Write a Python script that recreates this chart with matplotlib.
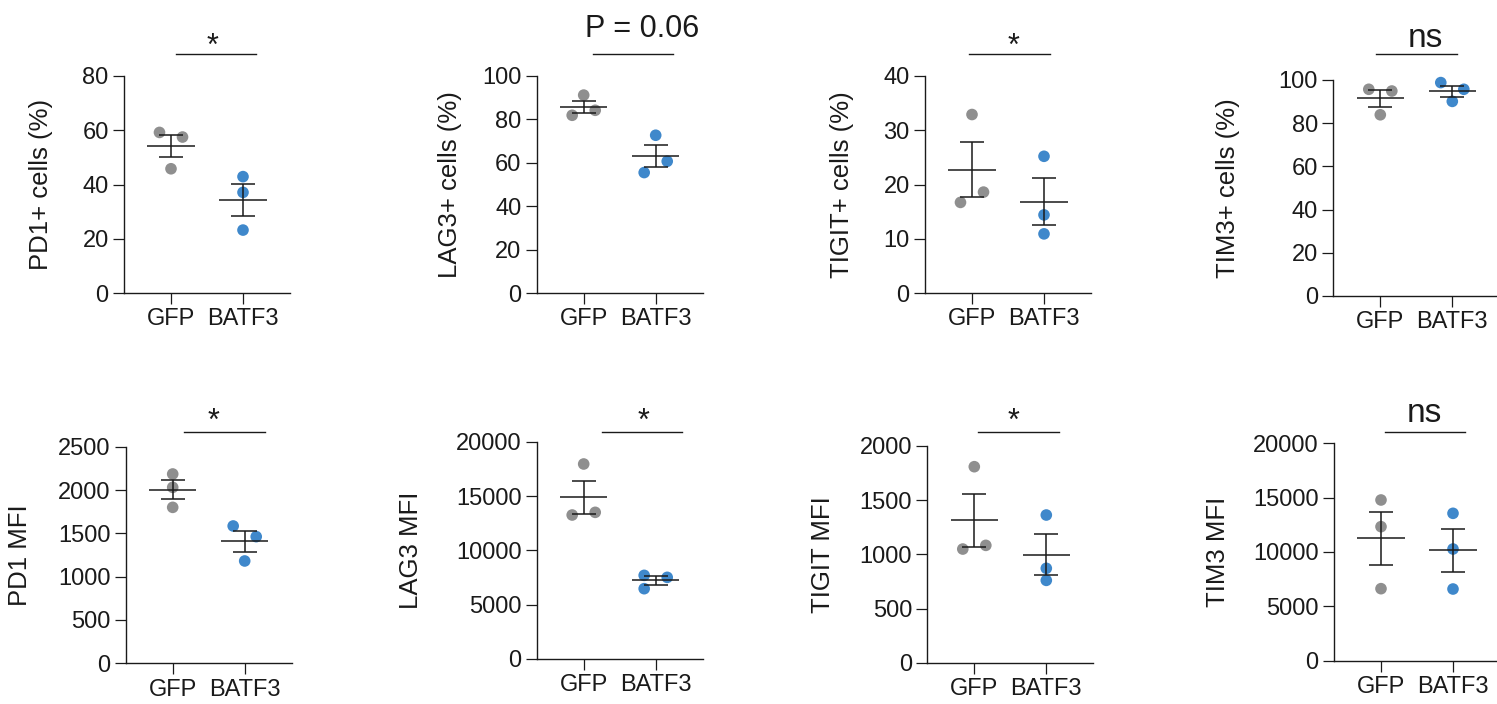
import numpy as np
import matplotlib
matplotlib.use('Agg')
import matplotlib.pyplot as plt
from matplotlib.transforms import blended_transform_factory

plt.rcParams['font.family'] = ['Liberation Sans', 'DejaVu Sans']

# -- data
groups = ['GFP', 'BATF3']

pd1_pct_gfp = [59.2, 57.5, 45.8]
pd1_pct_batf3 = [42.9, 37.1, 23.2]
lag3_pct_gfp = [91.2, 81.9, 84.2]
lag3_pct_batf3 = [72.7, 60.7, 55.5]
tigit_pct_gfp = [32.9, 18.6, 16.7]
tigit_pct_batf3 = [25.2, 14.4, 10.9]
tim3_pct_gfp = [95.7, 94.9, 83.9]
tim3_pct_batf3 = [98.8, 95.7, 90.1]

pd1_mfi_gfp = [2185, 2031, 1800]
pd1_mfi_batf3 = [1585, 1462, 1181]
lag3_mfi_gfp = [17970, 13262, 13508]
lag3_mfi_batf3 = [7692, 7508, 6462]
tigit_mfi_gfp = [1809, 1049, 1083]
tigit_mfi_batf3 = [1363, 871, 760]
tim3_mfi_gfp = [14785, 12331, 6626]
tim3_mfi_batf3 = [13558, 10276, 6595]

ylabels = ['PD1+ cells (%)', 'LAG3+ cells (%)', 'TIGIT+ cells (%)', 'TIM3+ cells (%)',
           'PD1 MFI', 'LAG3 MFI', 'TIGIT MFI', 'TIM3 MFI']
ymax = [80, 100, 40, 100, 2500, 20000, 2000, 20000]
ystep = [20, 20, 10, 20, 500, 5000, 500, 5000]
sig_text = ['*', 'P = 0.06', '*', 'ns', '*', '*', '*', 'ns']

panels = [
    (pd1_pct_gfp, pd1_pct_batf3), (lag3_pct_gfp, lag3_pct_batf3),
    (tigit_pct_gfp, tigit_pct_batf3), (tim3_pct_gfp, tim3_pct_batf3),
    (pd1_mfi_gfp, pd1_mfi_batf3), (lag3_mfi_gfp, lag3_mfi_batf3),
    (tigit_mfi_gfp, tigit_mfi_batf3), (tim3_mfi_gfp, tim3_mfi_batf3),
]

# -- layout (pixels): spine x, y of zero, y of top, label centre x
W, H = 1497, 704
rects = [(124, 293, 76), (536.7, 293, 76), (925, 293, 76), (1333.3, 296, 80),
         (125.7, 663.3, 446.7), (536.7, 658.7, 442), (927.3, 662.7, 446), (1334, 660.7, 443.3)]
label_x = [41.5, 449.7, 842.5, 1228.3, 20.3, 410.7, 823, 1217.8]
# horizontal jitter of the dots (-1 left, 0 centre, +1 right)
jitter = [([-1, 1, 0], [0, 0, 0]), ([0, -1, 1], [0, 1, -1]), ([0, 1, -1], [0, 0, 0]),
          ([-1, 1, 0], [-1, 1, 0]), ([0, 0, 0], [-1, 1, 0]), ([0, -1, 1], [-1, 1, -1]),
          ([0, -1, 1], [0, 0, 0]), ([0, 0, 0], [0, 0, 0])]
sig_span = [(0.07, 1.18), (0.13, 1.24), (-0.04, 1.09), (-0.06, 1.06),
            (0.16, 1.28), (0.26, 1.37), (0.05, 1.17), (0.05, 1.17)]
sig_tx = [0.58, 0.81, 0.575, 0.62, 0.57, 0.825, 0.55, 0.60]

colors = ['#8f8f8f', '#3f88cb']
ink = '#1a1a1a'

fig = plt.figure(figsize=(W / 100, H / 100), dpi=100)

for i, (vals, yl) in enumerate(zip(panels, ylabels)):
    x0, yb, yt = rects[i]
    ax = fig.add_axes([x0 / W, 1 - yb / H, 166 / W, (yb - yt) / H])
    for g, v in enumerate(vals):
        v = np.array(v, dtype=float)
        xs = g + 0.16 * np.array(jitter[i][g])
        ax.scatter(xs, v, s=70, color=colors[g], edgecolors='none', zorder=2, clip_on=False)
        m = v.mean()
        sem = v.std(ddof=1) / np.sqrt(len(v))
        ax.hlines(m, g - 0.33, g + 0.33, color=ink, lw=1.1, zorder=3)
        ax.hlines([m - sem, m + sem], g - 0.167, g + 0.167, color=ink, lw=1.1, zorder=3)
        ax.vlines(g, m - sem, m + sem, color=ink, lw=1.1, zorder=3)

    ax.set_xlim(-47 / 72, 119 / 72)
    ax.set_ylim(0, ymax[i])
    ax.set_xticks([0, 1])
    ax.set_xticklabels(groups)
    ax.set_yticks(np.arange(0, ymax[i] + 1, ystep[i]))
    for s in ['top', 'right']:
        ax.spines[s].set_visible(False)
    for s in ['left', 'bottom']:
        ax.spines[s].set_linewidth(1.0)
        ax.spines[s].set_color(ink)
    ax.tick_params(axis='both', direction='out', length=8, width=0.9, color=ink,
                   labelsize=17, labelcolor=ink, pad=3)
    ax.set_ylabel(yl, fontsize=18.5, color=ink, va='center')
    ax.yaxis.set_label_coords((label_x[i] - x0) / 166, 0.5)

    # significance bar
    top = i < 4
    tr = blended_transform_factory(ax.transData, fig.transFigure)
    ly = 1 - (54 if top else 432) / H
    ax.plot(sig_span[i], [ly, ly], transform=tr, color=ink, lw=1.0, clip_on=False)
    t = sig_text[i]
    if t == '*':
        ty, fs = (54.5 if top else 429.5), 22
    elif t == 'ns':
        ty, fs = (46.7 if top else 421.7), 24
    else:
        ty, fs = 37.3, 22
    ax.text(sig_tx[i], 1 - ty / H, t, transform=tr, ha='center', va='baseline',
            fontsize=fs, color=ink)

plt.savefig('out.png', dpi=100)
